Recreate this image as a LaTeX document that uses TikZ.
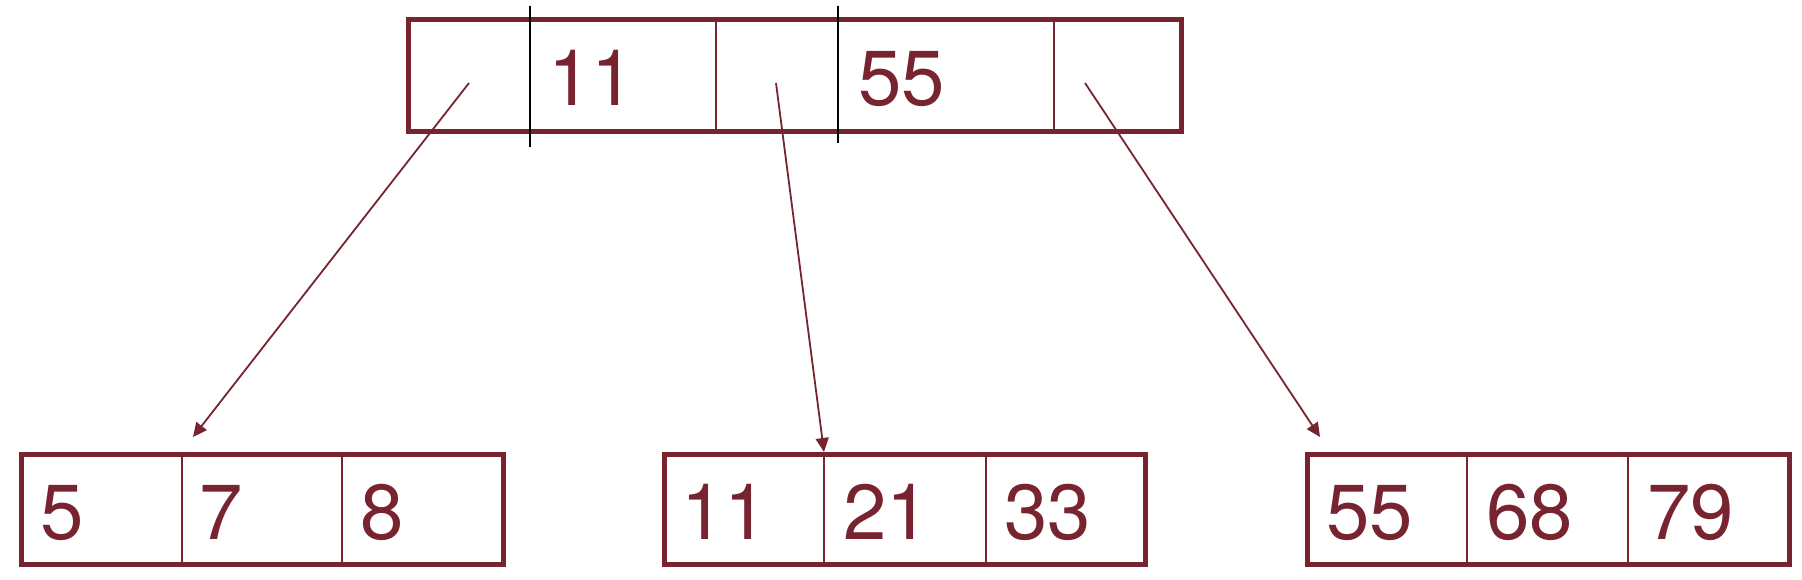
\documentclass[tikz,border=0pt]{standalone}
\usepackage{fontspec}
\setmainfont{TeX Gyre Heros}
\usetikzlibrary{arrows.meta}
\definecolor{maroon}{RGB}{120,36,48}
\begin{document}
\begin{tikzpicture}[x=1pt,y=-1pt,
  box/.style={draw=maroon,line width=5pt,rectangle,inner sep=0pt,minimum height=110.5pt,minimum width=482pt},
  div/.style={draw=maroon,line width=1.8pt},
  splitline/.style={draw=black,line width=2.5pt},
  num/.style={text=maroon,inner sep=0pt,anchor=base west,font=\fontsize{78}{80}\selectfont},
  ptr/.style={draw=maroon,line width=1.8pt,-{Triangle[length=14pt,width=13pt]}}]
\useasboundingbox (0,0) rectangle (1802,580);
% top node
\node[box,minimum width=772.5pt,minimum height=111.5pt] (top) at (794.75,75.75) {};
\draw[div] (716,20) -- (716,132);
\draw[div] (1054,20) -- (1054,132);
\draw[splitline] (530,6) -- (530,147);
\draw[splitline] (838,6) -- (838,143);
\node[num] (k11) at (548,106) {11};
\node[num] (k55) at (858,106) {55};
% leaves
\node[box] (leafA) at (262,509.5) {};
\draw[div] (182,454) -- (182,565);
\draw[div] (342,454) -- (342,565);
\node[num] (a5) at (40,539) {5};
\node[num] (a7) at (199,539) {7};
\node[num] (a8) at (360,539) {8};
\node[box,minimum width=481.5pt] (leafB) at (905,509.5) {};
\draw[div] (824,454) -- (824,565);
\draw[div] (986,454) -- (986,565);
\node[num] (b11) at (681,539) {11};
\node[num] (b21) at (843,539) {21};
\node[num] (b33) at (1004,539) {33};
\node[box] (leafC) at (1548.5,509.5) {};
\draw[div] (1467,454) -- (1467,565);
\draw[div] (1628,454) -- (1628,565);
\node[num] (c55) at (1326,539) {55};
\node[num] (c68) at (1486,539) {68};
\node[num] (c79) at (1647,539) {79};
% pointers
\coordinate (p1) at (469,83);
\coordinate (p2) at (776,83);
\coordinate (p3) at (1085,83);
\coordinate (e1) at (193,437);
\coordinate (e2) at (824,452);
\coordinate (e3) at (1320,437);
\draw[ptr] (p1) -- (e1);
\draw[ptr] (p2) -- (e2);
\draw[ptr] (p3) -- (e3);
\end{tikzpicture}
\end{document}
